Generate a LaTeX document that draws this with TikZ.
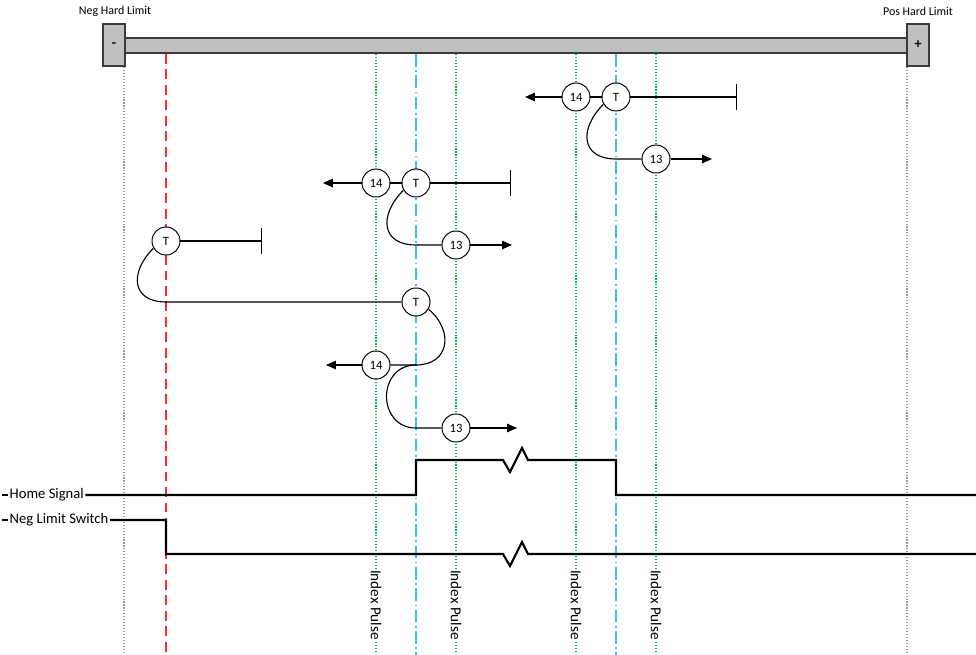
\documentclass[tikz,border=0pt]{standalone}
\usepackage{fontspec}
\setmainfont{Carlito}
\usetikzlibrary{arrows.meta}
\definecolor{barfill}{HTML}{C0C0C0}
\definecolor{baredge}{HTML}{3A3A3A}
\definecolor{idxgreen}{HTML}{00B050}
\definecolor{homecyan}{HTML}{3CBEF0}
\definecolor{limred}{HTML}{FF2A2A}
\tikzset{
    evt/.style={draw, circle, fill=white, minimum size=0.7cm, inner sep=0pt, line width=0.7pt, font=\fontsize{9}{10}\selectfont},
    block/.style={draw=baredge, fill=barfill, line width=0.9pt, minimum width=0.55cm, minimum height=1.05cm, inner sep=0pt, font=\bfseries},
    arrow/.style={line width=0.8pt, -{Triangle[length=7pt, width=6pt]}},
    stopline/.style={line width=0.8pt, -{Bar[width=18pt, line width=0.8pt]}},
    conn/.style={line width=0.8pt},
    sig/.style={line width=1.5pt},
    siglabel/.style={anchor=west, inner sep=1pt, font=\fontsize{10.4}{11}\selectfont},
    limlabel/.style={font=\fontsize{8.5}{9}\selectfont},
    idx/.style={idxgreen, line width=0.9pt, dash pattern=on 0.8pt off 1.3pt},
    idxlabel/.style={rotate=-90, fill=white, inner sep=1pt, font=\fontsize{10.8}{11}\selectfont},
    home/.style={homecyan, line width=1.1pt, dash pattern=on 9pt off 2.5pt on 1.2pt off 2.5pt},
    neglim/.style={limred, line width=1.2pt, dash pattern=on 7pt off 4pt},
    hard/.style={gray!80, line width=0.9pt, dash pattern=on 0.8pt off 1.3pt}
}

\begin{document}
\begin{tikzpicture}[x=0.025cm, y=-0.025cm]
\useasboundingbox (0,0) rectangle (976,655);

% travel bar with hard limits
\fill[barfill, draw=baredge, line width=0.9pt] (125,38) rectangle (907,53);
\node[block] (negblk) at (114,45) {-};
\node[block] (posblk) at (918,45) {+};
\node[limlabel] (neghard) at (115,11) {Neg Hard Limit};
\node[limlabel] (poshard) at (918,11) {Pos Hard Limit};

% guide lines
\draw[hard] (124,67) -- (124,655);
\draw[hard] (907,67) -- (907,655);
\draw[neglim] (166,54) -- (166,655);
\foreach \x in {376,456,576,656}
    \draw[idx] (\x,54) -- (\x,652);
\foreach \x in {416,616}
    \draw[home] (\x,54) -- (\x,655);

% top search
\node[evt] (a14) at (576,97) {14};
\node[evt] (aT) at (616,97) {T};
\node[evt] (a13) at (656,159) {13};
\coordinate (aStop) at (737,97);
\coordinate (aLeft) at (525,97);
\coordinate (aTurn) at (616,159);
\coordinate (aRight) at (712,159);
\draw[stopline] (aT) -- (aStop);
\draw[conn] (aT) -- (a14);
\draw[arrow] (a14) -- (aLeft);
\draw[conn] (aT.210) to[out=225, in=180, looseness=1.6] (aTurn) -- (a13);
\draw[arrow] (a13) -- (aRight);

% middle search
\node[evt] (b14) at (376,183) {14};
\node[evt] (bT) at (416,183) {T};
\node[evt] (b13) at (456,245) {13};
\coordinate (bStop) at (511,183);
\coordinate (bLeft) at (323,183);
\coordinate (bTurn) at (416,245);
\coordinate (bRight) at (512,245);
\draw[stopline] (bT) -- (bStop);
\draw[conn] (bT) -- (b14);
\draw[arrow] (b14) -- (bLeft);
\draw[conn] (bT.210) to[out=225, in=180, looseness=1.6] (bTurn) -- (b13);
\draw[arrow] (b13) -- (bRight);

% start at neg limit
\node[evt] (cT) at (166,241) {T};
\node[evt] (dT) at (416,302) {T};
\node[evt] (d14) at (376,365) {14};
\node[evt] (d13) at (456,428) {13};
\coordinate (cStop) at (262,241);
\coordinate (cTurn) at (166,302);
\coordinate (dTurn) at (416,365);
\coordinate (dLeft) at (326,365);
\coordinate (dTurnB) at (416,428);
\coordinate (dRight) at (517,428);
\draw[stopline] (cT) -- (cStop);
\draw[conn] (cT.210) to[out=225, in=180, looseness=1.6] (cTurn) -- (dT);
\draw[conn] (dT.330) to[out=-40, in=0, looseness=1.5] (dTurn) -- (d14);
\draw[arrow] (d14) -- (dLeft);
\draw[conn] (dTurn) to[out=180, in=180, looseness=1.6] (dTurnB) -- (d13);
\draw[arrow] (d13) -- (dRight);

% signals
\node[siglabel] (homesig) at (8,495) {Home Signal};
\node[siglabel] (negsw) at (8,520) {Neg Limit Switch};
\draw[sig] (homesig.west) -- ++(-6,0);
\draw[sig] (negsw.west) -- ++(-6,0);
\draw[sig] (homesig.east) -- (416,495) -- (416,460) -- (503,460) -- (510,472) -- (522,448) -- (528,460) -- (616,460) -- (616,495) -- (976,495);
\draw[sig] (negsw.east) -- (166,520) -- (166,554) -- (503,554) -- (510,566) -- (522,542) -- (528,554) -- (976,554);

% index pulse labels
\node[idxlabel] (ip1) at (376,605) {Index Pulse};
\node[idxlabel] (ip2) at (456,605) {Index Pulse};
\node[idxlabel] (ip3) at (576,605) {Index Pulse};
\node[idxlabel] (ip4) at (656,605) {Index Pulse};
\end{tikzpicture}
\end{document}
